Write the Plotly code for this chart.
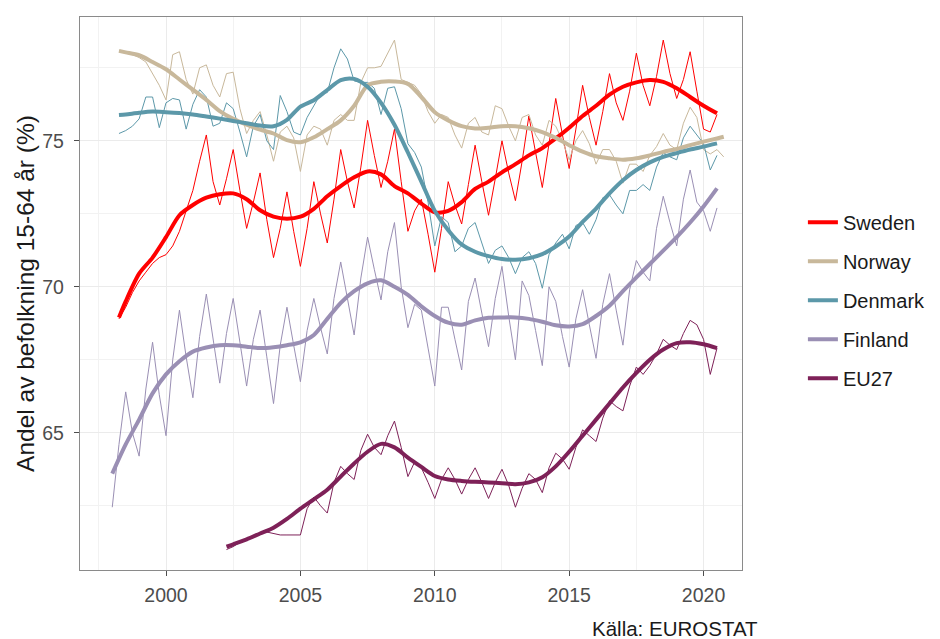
import numpy as np
import plotly.graph_objects as go

countries = ["Sweden", "Norway", "Denmark", "Finland", "EU27"]
colors = {"Sweden": "#FF0000", "Norway": "#C8B89B", "Denmark": "#5C98A9",
          "Finland": "#9A8FB4", "EU27": "#7E2158"}

# first quarter of each quarterly series (decimal year)
start_year = {"Sweden": 1998.25, "Norway": 1998.25, "Denmark": 1998.25,
              "Finland": 1998.0, "EU27": 2002.25}

sweden = [68.9, 69.3, 69.8,
          70.2, 70.5, 70.8, 71.0,
          71.1, 71.4, 71.9, 72.6,
          73.3, 74.3, 75.2, 73.6,
          72.8, 73.7, 74.7, 73.3,
          72.0, 72.9, 73.9, 72.3,
          71.0, 72.0, 73.25, 71.9,
          70.7, 72.0, 73.6, 72.5,
          71.5, 73.0, 74.7, 73.6,
          72.7, 74.1, 75.7, 74.5,
          73.4, 74.3, 75.4, 73.6,
          71.9, 72.6, 73.0, 71.8,
          70.5, 72.0, 73.6, 72.8,
          72.15, 73.5, 74.85, 73.6,
          72.45, 73.7, 75.0, 73.9,
          72.95, 74.3, 75.85, 74.6,
          73.4, 74.9, 76.45, 75.2,
          74.05, 75.4, 76.9, 75.8,
          74.85, 76.0, 77.3, 76.3,
          75.7, 76.7, 78.0, 76.9,
          76.2, 77.2, 78.45, 77.3,
          76.45, 77.1, 78.05, 76.7,
          75.4, 75.3, 75.9]

norway = [78.1, 78.0, 77.95,
          77.85, 77.7, 77.3, 76.9,
          76.4, 77.95, 78.05, 77.1,
          76.6, 77.5, 77.6, 76.9,
          76.5, 77.3, 77.35, 76.1,
          75.25, 75.7, 76.0, 75.2,
          74.3, 75.3, 75.5, 75.1,
          73.95, 75.2, 75.5, 75.4,
          74.85, 75.7, 75.9, 75.7,
          75.7, 77.0, 77.5, 77.5,
          77.55, 78.0, 78.45, 77.1,
          77.0, 76.9, 76.6, 76.0,
          75.6, 75.9, 75.8, 75.2,
          74.75, 75.6, 75.8, 75.3,
          75.2, 76.2, 76.1, 75.5,
          75.0, 75.8, 75.9, 75.2,
          74.85, 75.7, 75.5, 75.0,
          74.35, 75.0, 75.35, 74.9,
          74.2, 74.7, 74.7, 74.3,
          73.55, 74.2, 74.2, 73.95,
          74.5, 74.8, 75.25, 74.85,
          74.7, 75.6, 76.15, 75.8,
          74.7, 74.55, 74.7, 74.45]

denmark = [75.25, 75.35, 75.5,
           75.75, 76.5, 76.5, 75.45,
           76.3, 76.45, 76.4, 75.4,
           76.25, 76.75, 76.5, 75.5,
           75.6, 76.3, 76.1, 75.3,
           74.45, 75.5, 75.9, 75.0,
           74.7, 76.55, 76.0, 75.3,
           75.2, 75.8, 76.2, 76.6,
           76.65, 77.5, 78.15, 77.8,
           77.05, 77.0, 77.0, 76.8,
           75.9, 76.8, 76.85, 76.1,
           74.9, 74.6, 74.1, 72.9,
           71.4, 72.4, 72.2, 71.2,
           71.4, 72.0, 72.2, 71.5,
           70.8, 71.25, 71.4, 71.0,
           70.45, 71.0, 71.2, 70.8,
           69.95, 71.1, 71.5, 71.8,
           71.3, 72.1, 72.2, 71.8,
           72.3, 73.05, 73.15, 72.8,
           72.5, 73.3, 73.3, 73.5,
           73.3, 74.1, 74.6, 74.45,
           74.35, 75.1, 75.5, 75.2,
           74.9, 74.0, 74.5]

finland = [62.45, 64.6, 66.4, 65.0,
           64.2, 66.5, 68.1, 66.3,
           64.9, 67.5, 69.2, 67.6,
           66.2, 68.3, 69.75, 68.2,
           66.7, 68.4, 69.6, 68.1,
           66.6, 68.2, 69.2, 67.6,
           66.0, 68.0, 69.3, 68.0,
           66.75, 68.5, 69.6, 68.6,
           67.7, 69.6, 70.85, 69.6,
           68.35, 70.3, 71.7, 70.6,
           69.55, 71.2, 72.2, 70.0,
           68.6, 69.4, 69.2, 67.9,
           66.6, 69.3, 69.3, 68.2,
           67.15, 69.5, 70.3, 69.1,
           67.95, 69.6, 70.7, 69.0,
           67.5, 70.2, 69.7, 68.5,
           67.3, 70.0, 69.5, 68.3,
           67.25, 68.9, 69.9, 68.7,
           67.55, 69.4, 70.45, 69.2,
           68.0, 69.9, 70.9, 70.5,
           70.2, 72.0, 73.1, 72.2,
           71.4, 73.0, 74.0, 72.9,
           72.6, 71.9, 72.7]

eu27 = [61.0, 61.1, 61.25,
        61.35, 61.45, 61.55, 61.6,
        61.55, 61.5, 61.5, 61.5,
        61.5, 62.4, 62.8, 62.5,
        62.25, 63.3, 63.85, 63.6,
        63.4, 64.4, 64.95, 64.5,
        64.25, 64.9, 65.4, 64.5,
        63.5, 64.0, 63.8, 63.3,
        62.75, 63.4, 63.8, 63.4,
        62.9, 63.4, 63.8, 63.3,
        62.75, 63.3, 63.75, 63.2,
        62.45, 63.1, 63.6, 63.4,
        62.95, 63.8, 64.3, 64.1,
        63.75, 64.5, 65.1, 64.9,
        64.7, 65.5, 66.1, 65.9,
        65.75, 66.6, 67.25, 67.0,
        67.3, 67.7, 68.2, 68.0,
        67.85, 68.4, 68.85, 68.7,
        68.2, 67.0, 67.9]

# smoothed trend: first value at series start,
# then at every half year (x.0 / x.5) up to the series end
sweden_trend = [68.95, 69.5, 70.45, 71.0, 71.7, 72.45, 72.8, 73.05, 73.17, 73.2,
                73.0, 72.62, 72.4, 72.33, 72.4, 72.67, 73.1, 73.45, 73.75, 73.95,
                73.85, 73.45, 73.2, 72.85, 72.55, 72.6, 72.9, 73.35, 73.6, 73.92,
                74.2, 74.5, 74.75, 75.08, 75.45, 75.85, 76.2, 76.58, 76.85, 77.0,
                77.08, 77.02, 76.8, 76.5, 76.2, 75.94]
norway_trend = [78.08, 78.03, 77.93, 77.7, 77.45, 77.1, 76.75, 76.4, 76.02, 75.75,
                75.55, 75.38, 75.25, 75.02, 74.95, 75.12, 75.4, 75.7, 76.2, 76.9,
                77.02, 77.03, 76.95, 76.5, 75.98, 75.7, 75.5, 75.42, 75.45, 75.5,
                75.5, 75.43, 75.3, 75.1, 74.85, 74.63, 74.47, 74.4, 74.35, 74.4,
                74.5, 74.62, 74.72, 74.85, 74.97, 75.08, 75.14]
denmark_trend = [75.88, 75.9, 75.96, 76.0, 75.98, 75.95, 75.9, 75.83, 75.76, 75.68,
                 75.6, 75.52, 75.5, 75.72, 76.17, 76.39, 76.74, 77.08, 77.12, 76.85,
                 76.3, 75.55, 74.6, 73.6, 72.6, 71.94, 71.45, 71.2, 71.05, 70.95,
                 70.93, 70.98, 71.12, 71.38, 71.72, 72.22, 72.68, 73.2, 73.65, 74.0,
                 74.26, 74.45, 74.58, 74.7, 74.8, 74.91]
finland_trend = [63.6, 64.6, 65.45, 66.35, 67.0, 67.45, 67.78, 67.92, 68.0, 68.0,
                 67.95, 67.9, 67.93, 68.0, 68.1, 68.35, 68.9, 69.45, 69.85, 70.12,
                 70.22, 70.0, 69.72, 69.33, 69.0, 68.77, 68.7, 68.85, 68.94, 68.95,
                 68.95, 68.9, 68.8, 68.68, 68.64, 68.72, 69.0, 69.35, 69.85, 70.32,
                 70.78, 71.24, 71.7, 72.2, 72.75, 73.37]
eu27_trend = [61.1, 61.18, 61.35, 61.55, 61.75, 62.05, 62.4, 62.72, 63.05, 63.5,
              63.95, 64.35, 64.62, 64.5, 64.15, 63.83, 63.52, 63.4, 63.35, 63.32,
              63.3, 63.27, 63.24, 63.3, 63.48, 63.85, 64.35, 64.9, 65.45, 66.0,
              66.55, 67.05, 67.5, 67.85, 68.07, 68.1, 68.03, 67.9]

raw = {"Sweden": sweden, "Norway": norway, "Denmark": denmark,
       "Finland": finland, "EU27": eu27}
trend = {"Sweden": sweden_trend, "Norway": norway_trend, "Denmark": denmark_trend,
         "Finland": finland_trend, "EU27": eu27_trend}

x_ticks = [2000, 2005, 2010, 2015, 2020]
y_ticks = [65, 70, 75]

FONT = "Liberation Sans, Arial, Helvetica, sans-serif"

fig = go.Figure()

def quarter_x(name):
    s = start_year[name]
    return [s + 0.25 * i for i in range(len(raw[name]))]

def trend_x(name):
    qx = quarter_x(name)
    first, last = qx[0], qx[-1]
    xs = [first]
    h = np.floor(first * 2) / 2 + 0.5
    while h < last - 1e-9:
        xs.append(float(h))
        h += 0.5
    xs.append(last)
    return xs

for name in countries:
    fig.add_trace(go.Scatter(x=quarter_x(name), y=raw[name], mode="lines",
                             line=dict(color=colors[name], width=1),
                             showlegend=False, legendgroup=name,
                             hoverinfo="skip"))

for name in countries:
    tx = trend_x(name)
    ty = trend[name]
    n = min(len(tx), len(ty))
    fig.add_trace(go.Scatter(x=tx[:n], y=ty[:n], mode="lines", name=name,
                             line=dict(color=colors[name], width=4, shape="spline",
                                       smoothing=0.8),
                             legendgroup=name))

# the page body has an 8px default margin: figure is drawn 8px smaller and offset
fig.update_layout(
    width=932, height=631,
    margin=dict(l=72, r=195, t=9, b=69),
    paper_bgcolor="white", plot_bgcolor="white",
    font=dict(family=FONT, size=20, color="#1a1a1a"),
    showlegend=True,
    legend=dict(x=1.092, xanchor="left", y=0.664, yanchor="top",
                font=dict(size=20, color="#1a1a1a"),
                tracegroupgap=10, itemwidth=30,
                bgcolor="rgba(0,0,0,0)"),
    annotations=[dict(text="Källa: EUROSTAT", xref="paper", yref="paper",
                      x=1.027, y=-0.105, xanchor="right", yanchor="middle",
                      showarrow=False, font=dict(size=20.5, color="#1a1a1a"))],
)

fig.update_xaxes(range=[1996.8, 2021.43], tickvals=x_ticks,
                 ticktext=[str(v) for v in x_ticks],
                 showgrid=True, gridcolor="#EBEBEB", gridwidth=1.1,
                 minor=dict(tickvals=[1997.5, 2002.5, 2007.5, 2012.5, 2017.5],
                            showgrid=True, gridcolor="#F2F2F2", gridwidth=0.8,
                            ticks=""),
                 ticks="outside", ticklen=5, tickcolor="#4D4D4D", tickwidth=1.1,
                 ticklabelstandoff=2,
                 tickfont=dict(size=19.5, color="#4D4D4D"),
                 showline=True, linecolor="#8A8A8A", linewidth=1.3, mirror=True,
                 zeroline=False, automargin=False)
fig.update_yaxes(range=[60.3, 79.24], tickvals=y_ticks,
                 ticktext=[str(v) for v in y_ticks],
                 showgrid=True, gridcolor="#EBEBEB", gridwidth=1.1,
                 minor=dict(tickvals=[62.5, 67.5, 72.5, 77.5],
                            showgrid=True, gridcolor="#F2F2F2", gridwidth=0.8,
                            ticks=""),
                 ticks="outside", ticklen=5, tickcolor="#4D4D4D", tickwidth=1.1,
                 ticklabelstandoff=6,
                 tickfont=dict(size=19.5, color="#4D4D4D"),
                 title=dict(text="Andel av befolkning 15-64 år (%)",
                            font=dict(size=24.5, color="#1a1a1a"), standoff=0),
                 showline=True, linecolor="#8A8A8A", linewidth=1.3, mirror=True,
                 zeroline=False, automargin=False)

fig.write_html("out.html")
